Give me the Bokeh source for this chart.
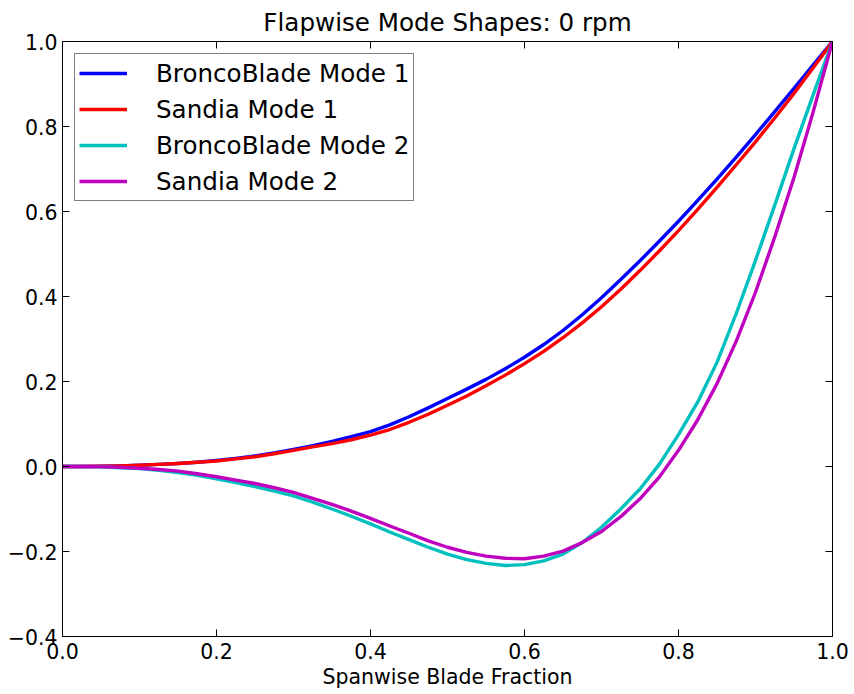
from bokeh.plotting import figure
from bokeh.models import LinearAxis, FixedTicker, Legend, LegendItem, Range1d, CustomJSTickFormatter
from bokeh.embed import file_html
from bokeh.resources import INLINE

# Spanwise positions (blade fraction)
span = [0.0, 0.025, 0.05, 0.075, 0.1, 0.125, 0.15, 0.175, 0.2, 0.225, 0.25,
        0.275, 0.3, 0.325, 0.35, 0.375, 0.4, 0.425, 0.45, 0.475, 0.5,
        0.525, 0.55, 0.575, 0.6, 0.625, 0.65, 0.675, 0.7, 0.725, 0.75,
        0.775, 0.8, 0.825, 0.85, 0.875, 0.9, 0.925, 0.95, 0.975, 1.0]

bronco_mode1 = [0.0, 0.0, 0.0005, 0.0015, 0.003, 0.005, 0.007, 0.010, 0.014, 0.019, 0.025,
                0.032, 0.040, 0.049, 0.059, 0.070, 0.082, 0.098, 0.117, 0.138, 0.160,
                0.182, 0.205, 0.230, 0.257, 0.287, 0.320, 0.357, 0.397, 0.440, 0.484,
                0.530, 0.577, 0.626, 0.676, 0.728, 0.781, 0.835, 0.890, 0.945, 1.0]
sandia_mode1 = [0.0, 0.0, 0.0005, 0.0015, 0.003, 0.005, 0.007, 0.010, 0.013, 0.018, 0.023,
                0.030, 0.038, 0.046, 0.054, 0.063, 0.074, 0.087, 0.104, 0.123, 0.144,
                0.166, 0.190, 0.215, 0.242, 0.271, 0.303, 0.338, 0.376, 0.417, 0.461,
                0.507, 0.555, 0.605, 0.657, 0.710, 0.764, 0.820, 0.878, 0.938, 1.0]
bronco_mode2 = [0.0, 0.0, -0.001, -0.003, -0.005, -0.009, -0.014, -0.021, -0.029, -0.038, -0.047,
                -0.058, -0.069, -0.084, -0.100, -0.117, -0.135, -0.154, -0.172, -0.190, -0.206,
                -0.219, -0.228, -0.233, -0.231, -0.222, -0.206, -0.179, -0.143, -0.100, -0.053,
                0.005, 0.075, 0.152, 0.245, 0.360, 0.485, 0.615, 0.748, 0.875, 1.0]
sandia_mode2 = [0.0, 0.0, -0.001, -0.002, -0.004, -0.007, -0.011, -0.017, -0.024, -0.032, -0.040,
                -0.050, -0.061, -0.075, -0.089, -0.105, -0.122, -0.140, -0.157, -0.175, -0.190,
                -0.202, -0.211, -0.216, -0.217, -0.211, -0.199, -0.179, -0.153, -0.118, -0.076,
                -0.025, 0.038, 0.110, 0.195, 0.295, 0.410, 0.540, 0.680, 0.835, 1.0]

series_labels = ["BroncoBlade Mode 1", "Sandia Mode 1", "BroncoBlade Mode 2", "Sandia Mode 2"]
series_colors = ["#0000ff", "#ff0000", "#00bfbf", "#bf00bf"]

x_ticks = [0.0, 0.2, 0.4, 0.6, 0.8, 1.0]
y_ticks = [-0.4, -0.2, 0.0, 0.2, 0.4, 0.6, 0.8, 1.0]

FONT = "DejaVu Sans"

p = figure(width=854, height=694, output_backend="svg", toolbar_location=None,
           x_range=Range1d(0, 1), y_range=Range1d(-0.4, 1.0),
           title="Flapwise Mode Shapes: 0 rpm",
           min_border_left=62, min_border_right=22, min_border_top=41, min_border_bottom=58)

p.title.text_font = FONT
p.title.text_font_size = "24.6px"
p.title.text_font_style = "normal"
p.title.align = "center"
p.title.standoff = 9
p.title.text_color = "black"

p.grid.visible = False
p.outline_line_color = "black"
p.outline_line_width = 1
p.background_fill_color = "white"
p.border_fill_color = "white"

renderers = []
for ys, col in zip([bronco_mode1, sandia_mode1, bronco_mode2, sandia_mode2], series_colors):
    r = p.line(span, ys, line_color=col, line_width=3.4, line_join="round")
    renderers.append(r)

# Bottom / left axes
xa = p.xaxis[0]
ya = p.yaxis[0]
xa.ticker = FixedTicker(ticks=x_ticks)
ya.ticker = FixedTicker(ticks=y_ticks)
xa.axis_label = "Spanwise Blade Fraction"
for ax in (xa, ya):
    ax.major_tick_in = 7
    ax.major_tick_out = 0
    ax.minor_tick_line_color = None
    ax.axis_line_color = "black"
    ax.major_tick_line_color = "black"
    ax.major_label_text_font = FONT
    ax.major_label_text_font_size = "20.5px"
    ax.major_label_text_color = "black"
    ax.axis_label_text_font = FONT
    ax.axis_label_text_font_size = "20.5px"
    ax.axis_label_text_font_style = "normal"
    ax.axis_label_text_color = "black"
xa.major_label_standoff = 6
xa.axis_label_standoff = 3
ya.major_label_standoff = 5
xa.major_label_overrides = {v: f"{v:.1f}" for v in x_ticks}
ya.major_label_overrides = {v: f"{v:.1f}".replace("-", "\u2212") for v in y_ticks}

# Top / right tick-only axes (matplotlib-style frame ticks)
blank = CustomJSTickFormatter(code="return '';")
top = LinearAxis(ticker=FixedTicker(ticks=x_ticks), formatter=blank)
right = LinearAxis(ticker=FixedTicker(ticks=y_ticks), formatter=blank)
for ax in (top, right):
    ax.major_tick_in = 7
    ax.major_tick_out = 0
    ax.minor_tick_line_color = None
    ax.axis_line_color = "black"
    ax.major_tick_line_color = "black"
    ax.major_label_standoff = 0
p.add_layout(top, "above")
p.add_layout(right, "right")

items = [LegendItem(label=lab, renderers=[r]) for lab, r in zip(series_labels, renderers)]
legend = Legend(items=items, location="top_left", margin=12, padding=4, spacing=6,
                label_height=30, glyph_height=30, glyph_width=48, label_standoff=29,
                label_text_font=FONT, label_text_font_size="24.6px", label_text_color="black",
                border_line_color="black", border_line_width=1, background_fill_color="white",
                background_fill_alpha=1.0)
p.add_layout(legend, "center")

open("out.html", "w").write(file_html(p, INLINE))
